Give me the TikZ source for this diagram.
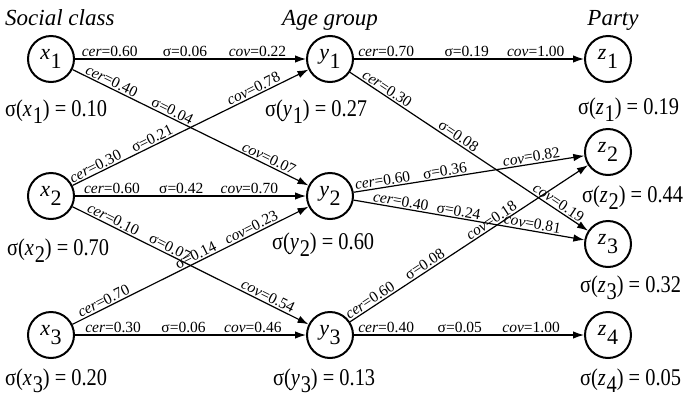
\documentclass[tikz,border=0pt]{standalone}
\usepackage{fontspec}
\setmainfont{Liberation Serif}
\newfontfamily\valfont[FakeStretch=0.85]{Liberation Serif}
\usetikzlibrary{arrows.meta}
\newcommand{\nsubs}[2]{\textit{#1}\kern0.03em\raisebox{-0.4em}{#2}}
\newcommand{\vsubs}[2]{\textit{#1}\kern0.03em\raisebox{-0.32em}{#2}}
\newcommand{\cerl}[1]{\textit{cer}=#1}
\newcommand{\sigl}[1]{σ=#1}
\newcommand{\covl}[1]{\textit{cov}=#1}
\newcommand{\sval}[3]{σ(\vsubs{#1}{#2}) = #3}
\begin{document}
\begin{tikzpicture}[x=1pt,y=-1pt,
  var/.style={circle,draw,line width=2pt,minimum size=46pt,inner sep=0pt,font=\fontsize{22}{22}\selectfont},
  edge/.style={line width=1.2pt,-{Latex[length=11pt,width=7.5pt]}},
  lab/.style={sloped,anchor=south,inner sep=1.3pt,font=\fontsize{15.5}{16}\selectfont},
  val/.style={anchor=base west,inner sep=0pt,font=\valfont\fontsize{24}{26}\selectfont},
  head/.style={anchor=base,inner sep=0pt,font=\fontsize{23}{25}\selectfont\itshape}]
\useasboundingbox (0,0) rectangle (694,397);

% headings
\node[head,anchor=base west] (hx) at (5,25) {Social class};
\node[head] (hy) at (330,25) {Age group};
\node[head] (hz) at (613,25) {Party};

% variables
\node[var] (x1) at (51,59) {\nsubs{x}{1}};
\node[var] (x2) at (51,196) {\nsubs{x}{2}};
\node[var] (x3) at (51,335) {\nsubs{x}{3}};
\node[var] (y1) at (330,59) {\nsubs{y}{1}};
\node[var] (y2) at (330,196) {\nsubs{y}{2}};
\node[var] (y3) at (330,335) {\nsubs{y}{3}};
\node[var] (z1) at (608,59) {\nsubs{z}{1}};
\node[var] (z2) at (608,152) {\nsubs{z}{2}};
\node[var] (z3) at (608,244) {\nsubs{z}{3}};
\node[var] (z4) at (608,335) {\nsubs{z}{4}};

% sigma values
\node[val] (vx1) at (5,116) {\sval{x}{1}{0.10}};
\node[val] (vx2) at (7,255) {\sval{x}{2}{0.70}};
\node[val] (vx3) at (5,385) {\sval{x}{3}{0.20}};
\node[val] (vy1) at (265,116) {\sval{y}{1}{0.27}};
\node[val] (vy2) at (272,249) {\sval{y}{2}{0.60}};
\node[val] (vy3) at (273,385) {\sval{y}{3}{0.13}};
\node[val] (vz1) at (578,114) {\sval{z}{1}{0.19}};
\node[val] (vz2) at (582,202) {\sval{z}{2}{0.44}};
\node[val] (vz3) at (580,292) {\sval{z}{3}{0.32}};
\node[val] (vz4) at (580,385) {\sval{z}{4}{0.05}};

% edges: social class -> age group
\draw[edge] (x1) -- node[lab,pos=0.15]{\cerl{0.60}} node[lab,pos=0.476]{\sigl{0.06}} node[lab,pos=0.79]{\covl{0.22}} (y1);
\draw[edge] (x1) -- node[lab,pos=0.153]{\cerl{0.40}} node[lab,pos=0.41]{\sigl{0.04}} node[lab,pos=0.82]{\covl{0.07}} (y2);
\draw[edge] (x2) -- node[lab,pos=0.11]{\cerl{0.30}} node[lab,pos=0.35]{\sigl{0.21}} node[lab,pos=0.78]{\covl{0.78}} (y1);
\draw[edge] (x2) -- node[lab,pos=0.16]{\cerl{0.60}} node[lab,pos=0.46]{\sigl{0.42}} node[lab,pos=0.755]{\covl{0.70}} (y2);
\draw[edge] (x2) -- node[lab,pos=0.16]{\cerl{0.10}} node[lab,pos=0.40]{\sigl{0.07}} node[lab,pos=0.815]{\covl{0.54}} (y3);
\draw[edge] (x3) -- node[lab,pos=0.145]{\cerl{0.70}} node[lab,pos=0.535]{\sigl{0.14}} node[lab,pos=0.77]{\covl{0.23}} (y2);
\draw[edge] (x3) -- node[lab,pos=0.165]{\cerl{0.30}} node[lab,pos=0.47]{\sigl{0.06}} node[lab,pos=0.77]{\covl{0.46}} (y3);

% edges: age group -> party
\draw[edge] (y1) -- node[lab,pos=0.14]{\cerl{0.70}} node[lab,pos=0.49]{\sigl{0.19}} node[lab,pos=0.79]{\covl{1.00}} (z1);
\draw[edge] (y1) -- node[lab,pos=0.14]{\cerl{0.30}} node[lab,pos=0.44]{\sigl{0.08}} node[lab,pos=0.86]{\covl{0.19}} (z3);
\draw[edge] (y2) -- node[lab,pos=0.13]{\cerl{0.60}} node[lab,pos=0.40]{\sigl{0.36}} node[lab,pos=0.775]{\covl{0.82}} (z2);
\draw[edge] (y2) -- node[lab,pos=0.20]{\cerl{0.40}} node[lab,pos=0.45]{\sigl{0.24}} node[lab,pos=0.77]{\covl{0.81}} (z3);
\draw[edge] (y3) -- node[lab,pos=0.10]{\cerl{0.60}} node[lab,pos=0.33]{\sigl{0.08}} node[lab,pos=0.61]{\covl{0.18}} (z2);
\draw[edge] (y3) -- node[lab,pos=0.14]{\cerl{0.40}} node[lab,pos=0.46]{\sigl{0.05}} node[lab,pos=0.77]{\covl{1.00}} (z4);
\end{tikzpicture}
\end{document}
